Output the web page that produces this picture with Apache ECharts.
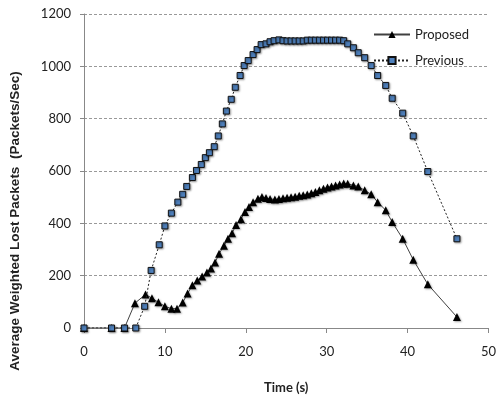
<!DOCTYPE html>
<html>
<head>
<meta charset="utf-8">
<script src="https://cdn.jsdelivr.net/npm/echarts@6/dist/echarts.min.js"></script>
<style>html,body{margin:0;padding:0;background:#fff}#c{width:499px;height:399px}</style>
</head>
<body>
<div id="c"></div>
<script>
var xTicks = [0, 10, 20, 30, 40, 50];
var yTicks = [0, 200, 400, 600, 800, 1000, 1200];

var proposedT = [0, 3.4, 5, 6.3, 7.6, 8.4, 9.2, 10.0, 10.8, 11.5, 12.2, 12.8, 13.4, 14.0, 14.6, 15.2, 15.7, 16.2, 16.7, 17.3, 17.8, 18.3, 18.8, 19.4, 19.9, 20.4, 20.9, 21.5, 22.0, 22.5, 23.0, 23.6, 24.1, 24.6, 25.1, 25.6, 26.1, 26.6, 27.1, 27.6, 28.1, 28.6, 29.1, 29.6, 30.1, 30.6, 31.1, 31.6, 32.1, 32.6, 33.3, 33.9, 34.7, 35.5, 36.3, 37.3, 38.1, 39.4, 40.7, 42.5, 46.1];
var proposedV = [0, 0, 0, 95, 128, 114, 98, 83, 74, 74, 97, 132, 163, 182, 197, 212, 227, 250, 284, 314, 341, 362, 394, 416, 443, 462, 481, 494, 501, 497, 493, 491, 493, 496, 498, 500, 502, 505, 507, 510, 515, 520, 526, 532, 537, 541, 545, 548, 552, 551, 545, 541, 526, 511, 481, 450, 405, 341, 261, 167, 42];

var previousT = [0, 3.4, 5, 6.4, 7.5, 8.3, 9.3, 10.0, 10.8, 11.6, 12.2, 12.7, 13.4, 13.9, 14.5, 15.0, 15.5, 16.1, 16.6, 17.1, 17.6, 18.2, 18.7, 19.3, 19.8, 20.3, 20.9, 21.4, 21.9, 22.5, 23.0, 23.5, 24.1, 24.6, 25.1, 25.6, 26.1, 26.6, 27.1, 27.6, 28.1, 28.6, 29.1, 29.6, 30.1, 30.6, 31.1, 31.6, 32.1, 32.6, 33.3, 33.9, 34.7, 35.5, 36.3, 37.3, 38.1, 39.4, 40.7, 42.5, 46.1];
var previousV = [0, 0, 0, 0, 83, 220, 318, 390, 439, 481, 511, 541, 575, 602, 625, 651, 670, 693, 734, 780, 829, 874, 920, 965, 1003, 1022, 1045, 1064, 1083, 1086, 1094, 1098, 1101, 1098, 1097, 1097, 1097, 1097, 1097, 1100, 1100, 1100, 1100, 1100, 1100, 1100, 1100, 1100, 1098, 1086, 1071, 1052, 1033, 1003, 965, 927, 878, 821, 734, 598, 341];

function pairs(t, v) { return t.map(function (x, i) { return [x, v[i]]; }); }

var font = 'Lato, "Open Sans", sans-serif';
var boldFont = '"Liberation Sans", Arial, sans-serif';
var chart = echarts.init(document.getElementById('c'), null, { renderer: 'canvas' });
chart.setOption({
  animation: false,
  backgroundColor: '#ffffff',
  grid: { left: 80, right: 10, top: 14, bottom: 68 },
  legend: {
    orient: 'vertical',
    left: 368,
    top: 23,
    itemWidth: 36,
    itemHeight: 9,
    itemGap: 13,
    textStyle: { fontFamily: font, fontSize: 13, color: '#222' },
    data: ['Proposed', 'Previous']
  },
  xAxis: {
    type: 'value',
    min: 0, max: 50, interval: 10,
    name: 'Time (s)',
    nameLocation: 'middle',
    nameGap: 53,
    nameTextStyle: { fontFamily: font, fontSize: 13, fontWeight: 'bold', color: '#222' },
    axisLine: { lineStyle: { color: '#888', width: 1 } },
    axisTick: { show: true, length: 5, lineStyle: { color: '#888' } },
    axisLabel: { fontFamily: font, fontSize: 13, color: '#222', margin: 17,
      formatter: function (v) { return xTicks.indexOf(v) >= 0 ? String(v) : ''; } },
    splitLine: { show: false }
  },
  yAxis: {
    type: 'value',
    min: 0, max: 1200, interval: 200,
    name: 'Average Weighted Lost Packets  (Packets/Sec)',
    nameLocation: 'middle',
    nameGap: 62,
    nameTextStyle: { fontFamily: boldFont, fontSize: 13.5, fontWeight: 'bold', color: '#222', padding: [0, 100, 0, 0] },
    axisLine: { show: true, lineStyle: { color: '#888', width: 1 } },
    axisTick: { show: true, length: 4, lineStyle: { color: '#888' } },
    axisLabel: { fontFamily: font, fontSize: 13, color: '#222', margin: 13,
      formatter: function (v) { return yTicks.indexOf(v) >= 0 ? String(v) : ''; } },
    splitLine: { show: true, lineStyle: { color: '#999', type: [3, 2], width: 1 } }
  },
  series: [
    {
      name: 'Proposed',
      type: 'line',
      data: pairs(proposedT, proposedV),
      symbol: 'triangle',
      symbolSize: 8,
      showAllSymbol: true,
      lineStyle: { color: '#404040', width: 1 },
      itemStyle: { color: '#000', borderColor: '#000', borderWidth: 0, shadowBlur: 2, shadowColor: 'rgba(0,0,0,0.35)', shadowOffsetX: 1, shadowOffsetY: 1 },
      z: 3
    },
    {
      name: 'Previous',
      type: 'line',
      data: pairs(previousT, previousV),
      symbol: 'rect',
      symbolSize: 6,
      showAllSymbol: true,
      lineStyle: { color: '#222', width: 1, type: [2, 2] },
      itemStyle: { color: '#4F81BD', borderColor: '#111', borderWidth: 1, shadowBlur: 2, shadowColor: 'rgba(0,0,0,0.35)', shadowOffsetX: 1, shadowOffsetY: 1 },
      z: 4
    }
  ]
});
</script>
</body>
</html>
